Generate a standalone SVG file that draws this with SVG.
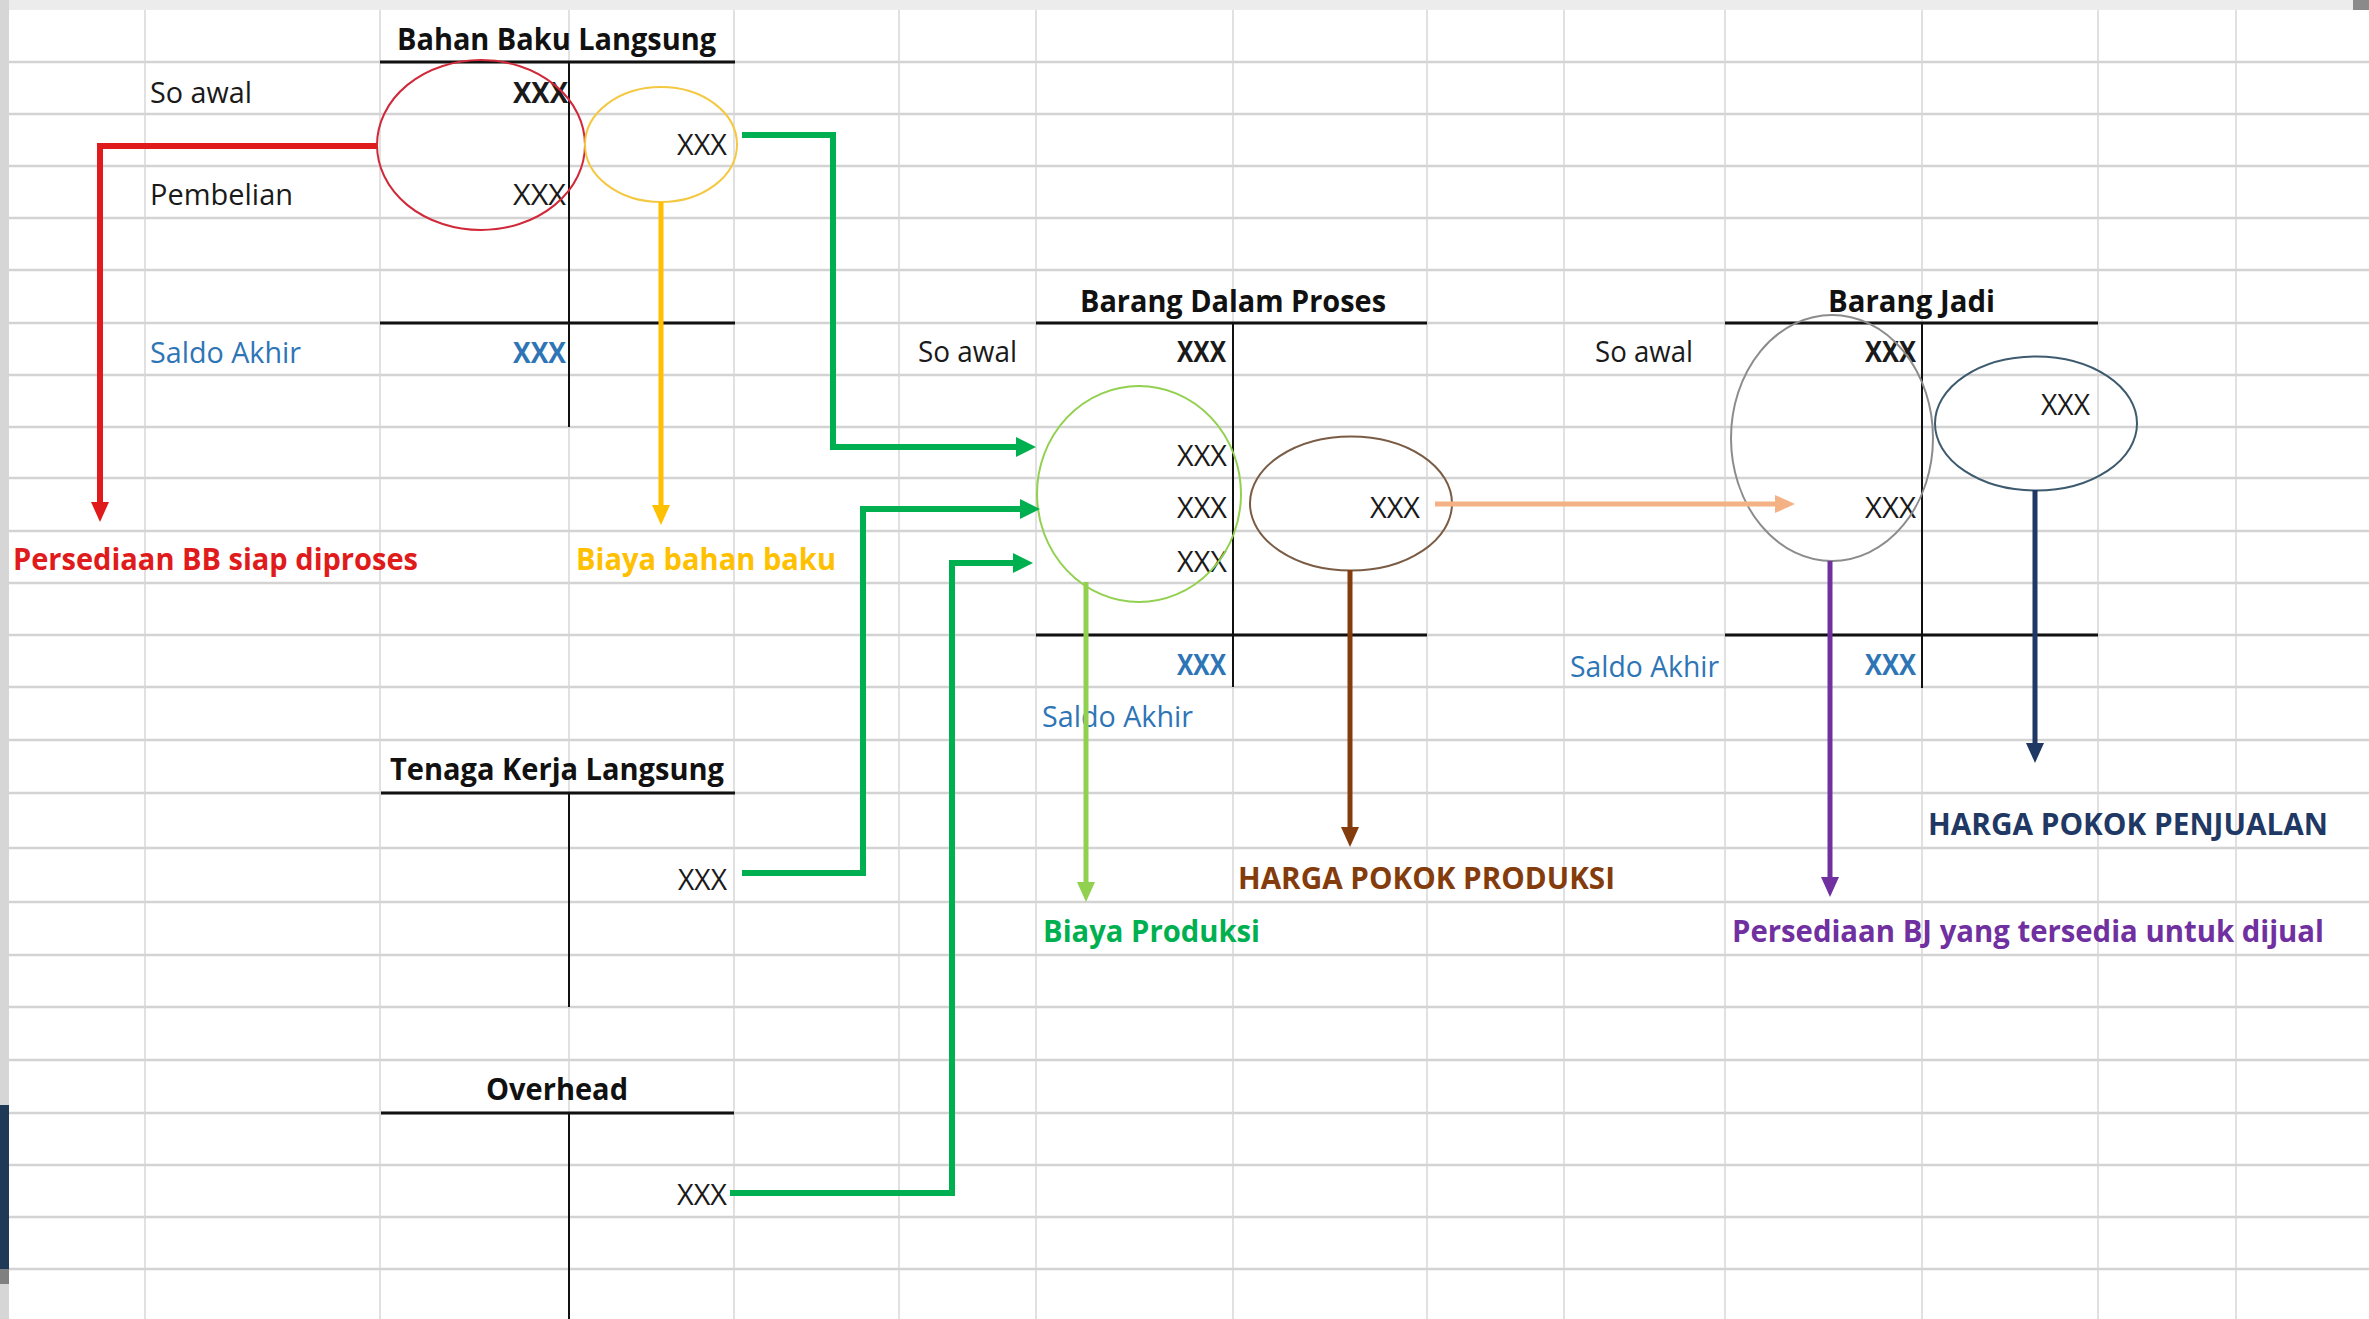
<svg xmlns="http://www.w3.org/2000/svg" width="2369" height="1319" viewBox="0 0 2369 1319">
<style>
.gr { stroke:#d3d3d3; stroke-width:2.5 }
.gc { stroke:#d7d7d7; stroke-width:1.5 }
.t { font-family:"Open Sans","Liberation Sans",sans-serif; font-size:29px; fill:#1a1a1a }
.b { font-weight:bold }
.ttl { font-size:30px; font-weight:bold; fill:#111 }
.lbl { font-size:30px; font-weight:bold }
.blue { fill:#2E75B6 }
.th { stroke:#111; stroke-width:3 }
.tv { stroke:#111; stroke-width:2 }
.hl { fill:none; stroke-width:2 }
.cn { fill:none; stroke-linejoin:miter }
</style>
<defs>
<marker id="a-red" markerUnits="userSpaceOnUse" markerWidth="22" markerHeight="20" refX="0" refY="9" orient="auto"><path d="M0,0 L20,9 L0,18 z" fill="#E01B1B"/></marker>
<marker id="a-yel" markerUnits="userSpaceOnUse" markerWidth="22" markerHeight="20" refX="0" refY="9" orient="auto"><path d="M0,0 L20,9 L0,18 z" fill="#FFC000"/></marker>
<marker id="a-grn" markerUnits="userSpaceOnUse" markerWidth="22" markerHeight="22" refX="0" refY="10" orient="auto"><path d="M0,0 L20,10 L0,20 z" fill="#00B050"/></marker>
<marker id="a-lgr" markerUnits="userSpaceOnUse" markerWidth="22" markerHeight="20" refX="0" refY="9" orient="auto"><path d="M0,0 L20,9 L0,18 z" fill="#92D050"/></marker>
<marker id="a-brn" markerUnits="userSpaceOnUse" markerWidth="22" markerHeight="20" refX="0" refY="9" orient="auto"><path d="M0,0 L20,9 L0,18 z" fill="#843C0C"/></marker>
<marker id="a-pch" markerUnits="userSpaceOnUse" markerWidth="22" markerHeight="20" refX="0" refY="9" orient="auto"><path d="M0,0 L20,9 L0,18 z" fill="#F4B183"/></marker>
<marker id="a-pur" markerUnits="userSpaceOnUse" markerWidth="22" markerHeight="20" refX="0" refY="9" orient="auto"><path d="M0,0 L20,9 L0,18 z" fill="#7030A0"/></marker>
<marker id="a-nav" markerUnits="userSpaceOnUse" markerWidth="22" markerHeight="20" refX="0" refY="9" orient="auto"><path d="M0,0 L20,9 L0,18 z" fill="#1F3864"/></marker>
</defs>
<rect x="0" y="0" width="2369" height="1319" fill="#ffffff"/>
<g id="sheet-grid">
<g class="gr">
<line x1="9" y1="62" x2="2369" y2="62"/><line x1="9" y1="114" x2="2369" y2="114"/><line x1="9" y1="166" x2="2369" y2="166"/><line x1="9" y1="218" x2="2369" y2="218"/><line x1="9" y1="270" x2="2369" y2="270"/><line x1="9" y1="323" x2="2369" y2="323"/><line x1="9" y1="375" x2="2369" y2="375"/><line x1="9" y1="427" x2="2369" y2="427"/><line x1="9" y1="478" x2="2369" y2="478"/><line x1="9" y1="531" x2="2369" y2="531"/><line x1="9" y1="583" x2="2369" y2="583"/><line x1="9" y1="635" x2="2369" y2="635"/><line x1="9" y1="687" x2="2369" y2="687"/><line x1="9" y1="740" x2="2369" y2="740"/><line x1="9" y1="793" x2="2369" y2="793"/><line x1="9" y1="848" x2="2369" y2="848"/><line x1="9" y1="902" x2="2369" y2="902"/><line x1="9" y1="955" x2="2369" y2="955"/><line x1="9" y1="1007" x2="2369" y2="1007"/><line x1="9" y1="1060" x2="2369" y2="1060"/><line x1="9" y1="1113" x2="2369" y2="1113"/><line x1="9" y1="1165" x2="2369" y2="1165"/><line x1="9" y1="1217" x2="2369" y2="1217"/><line x1="9" y1="1269" x2="2369" y2="1269"/>
</g>
<g class="gc">
<line x1="145" y1="10" x2="145" y2="1319"/><line x1="380" y1="10" x2="380" y2="1319"/><line x1="569" y1="10" x2="569" y2="1319"/><line x1="734" y1="10" x2="734" y2="1319"/><line x1="899" y1="10" x2="899" y2="1319"/><line x1="1036" y1="10" x2="1036" y2="1319"/><line x1="1233" y1="10" x2="1233" y2="1319"/><line x1="1427" y1="10" x2="1427" y2="1319"/><line x1="1564" y1="10" x2="1564" y2="1319"/><line x1="1725" y1="10" x2="1725" y2="1319"/><line x1="1922" y1="10" x2="1922" y2="1319"/><line x1="2098" y1="10" x2="2098" y2="1319"/><line x1="2236" y1="10" x2="2236" y2="1319"/>
</g>
<rect x="0" y="0" width="2369" height="10" fill="#ececec"/>
<rect x="0" y="0" width="9" height="1319" fill="#d6d6d6"/>
<rect x="2353" y="0" width="16" height="10" fill="#8a8a8a"/>
<rect x="0" y="1105" width="9" height="164" fill="#1e3a56"/>
<rect x="0" y="1269" width="9" height="15" fill="#808080"/>
</g>

<g id="bahan-baku-langsung">
<text class="t ttl" x="397" y="50" textLength="319" lengthAdjust="spacingAndGlyphs">Bahan Baku Langsung</text>
<line class="th" x1="380" y1="62" x2="735" y2="62"/>
<line class="tv" x1="569" y1="62" x2="569" y2="427"/>
<line class="th" x1="380" y1="323" x2="735" y2="323"/>
<text class="t" x="150" y="103" textLength="102" lengthAdjust="spacingAndGlyphs">So awal</text>
<text class="t b" x="513" y="103" textLength="55" lengthAdjust="spacingAndGlyphs">XXX</text>
<text class="t" x="150" y="205" textLength="143" lengthAdjust="spacingAndGlyphs">Pembelian</text>
<text class="t" x="513" y="205" textLength="53" lengthAdjust="spacingAndGlyphs">XXX</text>
<text class="t" x="677" y="155" textLength="50" lengthAdjust="spacingAndGlyphs">XXX</text>
<text class="t blue" x="150" y="363" textLength="151" lengthAdjust="spacingAndGlyphs">Saldo Akhir</text>
<text class="t b blue" x="513" y="363" textLength="53" lengthAdjust="spacingAndGlyphs">XXX</text>
<ellipse class="hl" cx="481" cy="145" rx="104" ry="85" stroke="#d02a3a"/>
<ellipse class="hl" cx="661" cy="144.5" rx="76" ry="57.5" stroke="#f5c842"/>
</g>

<g id="tenaga-kerja-langsung">
<text class="t ttl" x="390" y="780" textLength="334" lengthAdjust="spacingAndGlyphs">Tenaga Kerja Langsung</text>
<line class="th" x1="381" y1="793" x2="735" y2="793"/>
<line class="tv" x1="569" y1="793" x2="569" y2="1007"/>
<text class="t" x="678" y="890" textLength="49" lengthAdjust="spacingAndGlyphs">XXX</text>
</g>

<g id="overhead">
<text class="t ttl" x="486" y="1100" textLength="142" lengthAdjust="spacingAndGlyphs">Overhead</text>
<line class="th" x1="381" y1="1113" x2="734" y2="1113"/>
<line class="tv" x1="569" y1="1113" x2="569" y2="1319"/>
<text class="t" x="677" y="1205" textLength="50" lengthAdjust="spacingAndGlyphs">XXX</text>
</g>

<g id="barang-dalam-proses">
<text class="t ttl" x="1080" y="312" textLength="306" lengthAdjust="spacingAndGlyphs">Barang Dalam Proses</text>
<line class="th" x1="1036" y1="323" x2="1427" y2="323"/>
<line class="tv" x1="1233" y1="323" x2="1233" y2="687"/>
<line class="th" x1="1036" y1="635" x2="1427" y2="635"/>
<text class="t" x="918" y="362" textLength="99" lengthAdjust="spacingAndGlyphs">So awal</text>
<text class="t b" x="1177" y="362" textLength="49" lengthAdjust="spacingAndGlyphs">XXX</text>
<text class="t" x="1177" y="466" textLength="50" lengthAdjust="spacingAndGlyphs">XXX</text>
<text class="t" x="1177" y="518" textLength="50" lengthAdjust="spacingAndGlyphs">XXX</text>
<text class="t" x="1177" y="572" textLength="50" lengthAdjust="spacingAndGlyphs">XXX</text>
<text class="t b blue" x="1177" y="675" textLength="49" lengthAdjust="spacingAndGlyphs">XXX</text>
<text class="t blue" x="1042" y="727" textLength="151" lengthAdjust="spacingAndGlyphs">Saldo Akhir</text>
<text class="t" x="1370" y="518" textLength="50" lengthAdjust="spacingAndGlyphs">XXX</text>
<ellipse class="hl" cx="1139" cy="494" rx="102" ry="108" stroke="#92D050"/>
<ellipse class="hl" cx="1351" cy="503.5" rx="101" ry="67" stroke="#7a5c45"/>
</g>

<g id="barang-jadi">
<text class="t ttl" x="1828" y="312" textLength="167" lengthAdjust="spacingAndGlyphs">Barang Jadi</text>
<line class="th" x1="1725" y1="323" x2="2098" y2="323"/>
<line class="tv" x1="1922" y1="323" x2="1922" y2="688"/>
<line class="th" x1="1725" y1="635" x2="2098" y2="635"/>
<text class="t" x="1595" y="362" textLength="98" lengthAdjust="spacingAndGlyphs">So awal</text>
<text class="t b" x="1865" y="362" textLength="51" lengthAdjust="spacingAndGlyphs">XXX</text>
<text class="t" x="2041" y="415" textLength="49" lengthAdjust="spacingAndGlyphs">XXX</text>
<text class="t" x="1865" y="518" textLength="51" lengthAdjust="spacingAndGlyphs">XXX</text>
<text class="t blue" x="1570" y="677" textLength="149" lengthAdjust="spacingAndGlyphs">Saldo Akhir</text>
<text class="t b blue" x="1865" y="675" textLength="51" lengthAdjust="spacingAndGlyphs">XXX</text>
<ellipse class="hl" cx="1832" cy="438" rx="101" ry="123" stroke="#8c8c8c" stroke-width="1.5"/>
<ellipse class="hl" cx="2036" cy="423.5" rx="101" ry="67" stroke="#3d5a6e"/>
</g>

<g id="label-persediaan-bb">
<text class="t lbl" x="13" y="570" textLength="405" lengthAdjust="spacingAndGlyphs" fill="#E01B1B" style="fill:#E01B1B">Persediaan BB siap diproses</text>
</g>
<g id="label-biaya-bahan-baku">
<text class="t lbl" x="576" y="570" textLength="260" lengthAdjust="spacingAndGlyphs" style="fill:#FFC000">Biaya bahan baku</text>
</g>
<g id="label-biaya-produksi">
<text class="t lbl" x="1043" y="942" textLength="217" lengthAdjust="spacingAndGlyphs" style="fill:#00B050">Biaya Produksi</text>
</g>
<g id="label-hpp-produksi">
<text class="t lbl" x="1238" y="889" textLength="377" lengthAdjust="spacingAndGlyphs" style="fill:#843C0C">HARGA POKOK PRODUKSI</text>
</g>
<g id="label-hpp-penjualan">
<text class="t lbl" x="1928" y="835" textLength="400" lengthAdjust="spacingAndGlyphs" style="fill:#1F3864">HARGA POKOK PENJUALAN</text>
</g>
<g id="label-persediaan-bj">
<text class="t lbl" x="1732" y="942" textLength="592" lengthAdjust="spacingAndGlyphs" style="fill:#7030A0">Persediaan BJ yang tersedia untuk dijual</text>
</g>

<g id="connectors" class="cn">
<path d="M377,146 H100 V502" stroke="#E01B1B" stroke-width="6" fill="none" marker-end="url(#a-red)"/>
<path d="M661,202 V505" stroke="#FFC000" stroke-width="5" fill="none" marker-end="url(#a-yel)"/>
<path d="M742,135 H833 V447 H1016" stroke="#00B050" stroke-width="6" fill="none" marker-end="url(#a-grn)"/>
<path d="M742,873 H863 V509 H1020" stroke="#00B050" stroke-width="6" fill="none" marker-end="url(#a-grn)"/>
<path d="M730,1193 H952 V563 H1013" stroke="#00B050" stroke-width="6" fill="none" marker-end="url(#a-grn)"/>
<path d="M1086,582 V882" stroke="#92D050" stroke-width="5" fill="none" marker-end="url(#a-lgr)"/>
<path d="M1350,570 V827" stroke="#843C0C" stroke-width="5" fill="none" marker-end="url(#a-brn)"/>
<path d="M1435,504 H1775" stroke="#F4B183" stroke-width="5" fill="none" marker-end="url(#a-pch)"/>
<path d="M1830,561 V877" stroke="#7030A0" stroke-width="5" fill="none" marker-end="url(#a-pur)"/>
<path d="M2035,490 V743" stroke="#1F3864" stroke-width="5" fill="none" marker-end="url(#a-nav)"/>
</g>
</svg>
